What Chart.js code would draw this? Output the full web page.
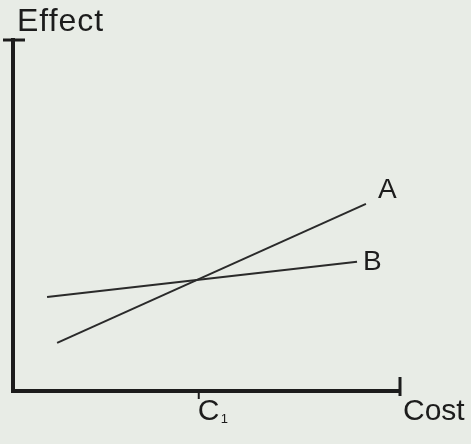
<!DOCTYPE html>
<html>
<head>
<meta charset="utf-8">
<title>Effect vs Cost</title>
<script src="https://cdn.jsdelivr.net/npm/chart.js@4/dist/chart.umd.min.js"></script>
<style>
    html, body { margin: 0; padding: 0; background: #e8ece6; }
    #chart { display: block; }
</style>
</head>
<body>
<canvas id="chart" width="471" height="444"></canvas>
<script>
// two alternatives plotted as effect against cost, crossing at C1
const costA = [11.4, 91.2];
const effectA = [13.7, 53.3];
const costB = [8.8, 88.9];
const effectB = [26.8, 36.8];
const seriesNames = ['A', 'B'];
const crossCost = 48;
const crossLabel = ['C', '1'];
const axisTitles = { x: 'Cost', y: 'Effect' };

const INK = '#1c1c1c';
const FONT = '"Liberation Sans", Arial, sans-serif';

function toPoints(xs, ys) {
    return xs.map((x, i) => ({ x: x, y: ys[i] }));
}

// axes with end caps, the C1 tick and all the lettering
const sketchAxes = {
    id: 'sketchAxes',
    afterDatasetsDraw(chart) {
        const ctx = chart.ctx;
        const xs = chart.scales.x;
        const ys = chart.scales.y;
        const left = xs.getPixelForValue(0);
        const right = xs.getPixelForValue(100);
        const bottom = ys.getPixelForValue(0);
        const top = ys.getPixelForValue(100);

        ctx.save();
        ctx.strokeStyle = INK;
        ctx.fillStyle = INK;
        ctx.lineCap = 'butt';

        // main axes
        ctx.lineWidth = 4;
        ctx.beginPath();
        ctx.moveTo(left, top - 2);
        ctx.lineTo(left, bottom);
        ctx.lineTo(right, bottom);
        ctx.stroke();

        // caps at the ends
        ctx.lineWidth = 3;
        ctx.beginPath();
        ctx.moveTo(left - 10, top);
        ctx.lineTo(left + 12, top);
        ctx.moveTo(right, bottom - 14);
        ctx.lineTo(right, bottom + 5);
        ctx.stroke();

        // C1 tick
        const cx = xs.getPixelForValue(crossCost);
        ctx.lineWidth = 2;
        ctx.beginPath();
        ctx.moveTo(cx, bottom);
        ctx.lineTo(cx, bottom + 8);
        ctx.stroke();

        ctx.textBaseline = 'alphabetic';
        ctx.textAlign = 'left';
        ctx.font = '30px ' + FONT;
        ctx.fillText(crossLabel[0], cx - 1, bottom + 29);
        ctx.font = '13px ' + FONT;
        ctx.fillText(crossLabel[1], cx + 22, bottom + 32);

        ctx.font = '30px ' + FONT;
        ctx.fillText(axisTitles.x, right + 3, bottom + 29);
        ctx.font = '32px ' + FONT;
        ctx.letterSpacing = '1px';
        ctx.fillText(axisTitles.y, left + 4, top - 9);
        ctx.letterSpacing = '0px';

        // series names next to the line ends
        const endA = chart.getDatasetMeta(0).data[1];
        const endB = chart.getDatasetMeta(1).data[1];
        ctx.font = '28px ' + FONT;
        ctx.fillText(seriesNames[0], endA.x + 12, endA.y - 6);
        ctx.textBaseline = 'middle';
        ctx.fillText(seriesNames[1], endB.x + 6, endB.y);
        ctx.restore();
    }
};

const lineStyle = {
    borderColor: '#2a2a2a',
    borderWidth: 2,
    pointRadius: 0,
    fill: false,
    tension: 0
};

new Chart(document.getElementById('chart'), {
    type: 'line',
    data: {
        datasets: [
            Object.assign({ label: seriesNames[0], data: toPoints(costA, effectA) }, lineStyle),
            Object.assign({ label: seriesNames[1], data: toPoints(costB, effectB) }, lineStyle)
        ]
    },
    options: {
        responsive: false,
        animation: false,
        layout: { padding: { left: 13, right: 71, top: 40, bottom: 53 } },
        scales: {
            x: { type: 'linear', min: 0, max: 100, display: false },
            y: { type: 'linear', min: 0, max: 100, display: false }
        },
        plugins: {
            legend: { display: false },
            tooltip: { enabled: false }
        }
    },
    plugins: [sketchAxes]
});
</script>
</body>
</html>
